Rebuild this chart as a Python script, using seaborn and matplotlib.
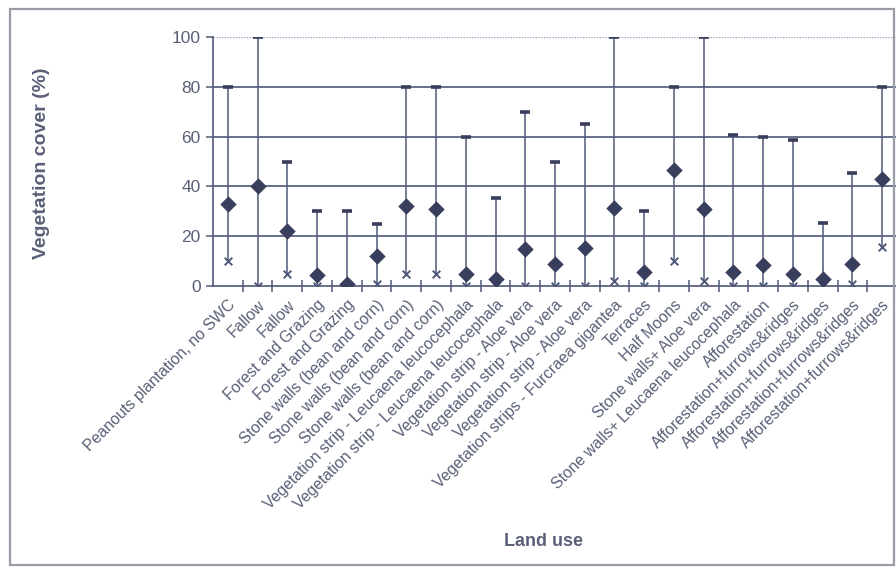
import matplotlib
matplotlib.use("Agg")
import matplotlib.pyplot as plt
import seaborn as sns
import pandas as pd
import numpy as np
from matplotlib.patches import Rectangle

# Land use categories (in plotted order)
land_use = [
    "Peanouts plantation, no SWC",
    "Fallow",
    "Fallow",
    "Forest and Grazing",
    "Forest and Grazing",
    "Stone walls (bean and corn)",
    "Stone walls (bean and corn)",
    "Stone walls (bean and corn)",
    "Vegetation strip - Leucaena leucocephala",
    "Vegetation strip - Leucaena leucocephala",
    "Vegetation strip - Aloe vera",
    "Vegetation strip - Aloe vera",
    "Vegetation strip - Aloe vera",
    "Vegetation strips - Furcraea gigantea",
    "Terraces",
    "Half Moons",
    "Stone walls+ Aloe vera",
    "Stone walls+ Leucaena leucocephala",
    "Afforestation",
    "Afforestation+furrows&ridges",
    "Afforestation+furrows&ridges",
    "Afforestation+furrows&ridges",
    "Afforestation+furrows&ridges",
]

# Vegetation cover (%) per land use: maximum, mean, minimum
cover_max = [80, 100, 50, 30, 30, 25, 80, 80, 60, 35.5, 70, 50, 65, 100, 30,
             80, 100, 60.5, 60, 58.5, 25.5, 45.5, 80]
cover_mean = [33, 40, 22, 4.3, 1, 12, 32, 31, 5, 3, 15, 9, 15.4, 31.3, 5.5,
              46.5, 31, 5.5, 8.5, 5, 3, 9, 42.8]
cover_min = [10, 0, 5, 0, 0, 1, 5, 5, 0, 0, 0, 0, 0, 2, 0,
             10, 2, 0, 0, 0, 0, 1, 15.5]

df = pd.DataFrame({
    "pos": np.arange(len(land_use)),
    "land_use": land_use,
    "max": cover_max,
    "mean": cover_mean,
    "min": cover_min,
})

sns.set_style("white")
plt.rcParams["font.family"] = ["Liberation Sans", "DejaVu Sans"]

line_col = "#4f5878"
dark_col = "#383e5c"
text_col = "#5a6078"

fig = plt.figure(figsize=(8.96, 5.67), dpi=100)
ax = fig.add_axes([213 / 896, (567 - 286) / 567, (897 - 213) / 896, (286 - 37) / 567])

# Range line from minimum to maximum
ax.vlines(df["pos"], df["min"], df["max"], color=line_col, lw=1.1, zorder=3)

# Maximum caps, minimum crosses, mean diamonds
sns.scatterplot(data=df, x="pos", y="max", marker="_", s=45, linewidth=2.6,
                color=dark_col, ax=ax, zorder=4, legend=False)
sns.scatterplot(data=df, x="pos", y="min", marker="x", s=30, linewidth=1.4,
                color=line_col, ax=ax, zorder=4, legend=False)
sns.scatterplot(data=df, x="pos", y="mean", marker="D", s=70, linewidth=0,
                color=dark_col, ax=ax, zorder=5, legend=False)

ax.set_xlim(-0.5, len(land_use) - 0.5)
ax.set_ylim(0, 100)
ax.set_yticks([0, 20, 40, 60, 80, 100])

# Horizontal grid
for v in [20, 40, 60, 80]:
    ax.axhline(v, color=line_col, lw=1.2, zorder=1)
ax.axhline(100, color="#9aa2c0", lw=1.0, ls=(0, (1, 1)), zorder=1)

for side in ["top", "right"]:
    ax.spines[side].set_visible(False)
for side in ["left", "bottom"]:
    ax.spines[side].set_color(line_col)
    ax.spines[side].set_linewidth(1.2)

# Category labels at centres, tick marks on the boundaries
ax.set_xticks(df["pos"])
ax.set_xticklabels(land_use, rotation=45, ha="right", va="top",
                   rotation_mode="anchor", fontsize=11.3, color=text_col)
ax.tick_params(axis="x", which="major", bottom=True, length=0, pad=8)
ax.set_xticks(df["pos"][:-1] + 0.5, minor=True)
ax.tick_params(axis="x", which="minor", bottom=True, direction="inout",
               length=9, width=1.1, color=line_col)
ax.tick_params(axis="y", which="major", left=True, direction="out",
               length=5, width=1.1, color=line_col, labelsize=12.5,
               labelcolor=text_col, pad=4)

ax.set_xlabel("")
ax.set_ylabel("")
fig.text(42 / 896, 1 - 163 / 567, "Vegetation cover (%)", rotation=90,
         ha="center", va="center", fontsize=14, fontweight="bold",
         color=text_col)
fig.text(543 / 896, 1 - 541 / 567, "Land use", ha="center", va="center",
         fontsize=13, fontweight="bold", color=text_col)

# Outer frame
fig.patches.append(Rectangle((10 / 896, 2 / 567), 884 / 896, 556 / 567,
                             transform=fig.transFigure, fill=False,
                             edgecolor="#9a9ca6", lw=1.6))

fig.savefig("out.png", dpi=100)
